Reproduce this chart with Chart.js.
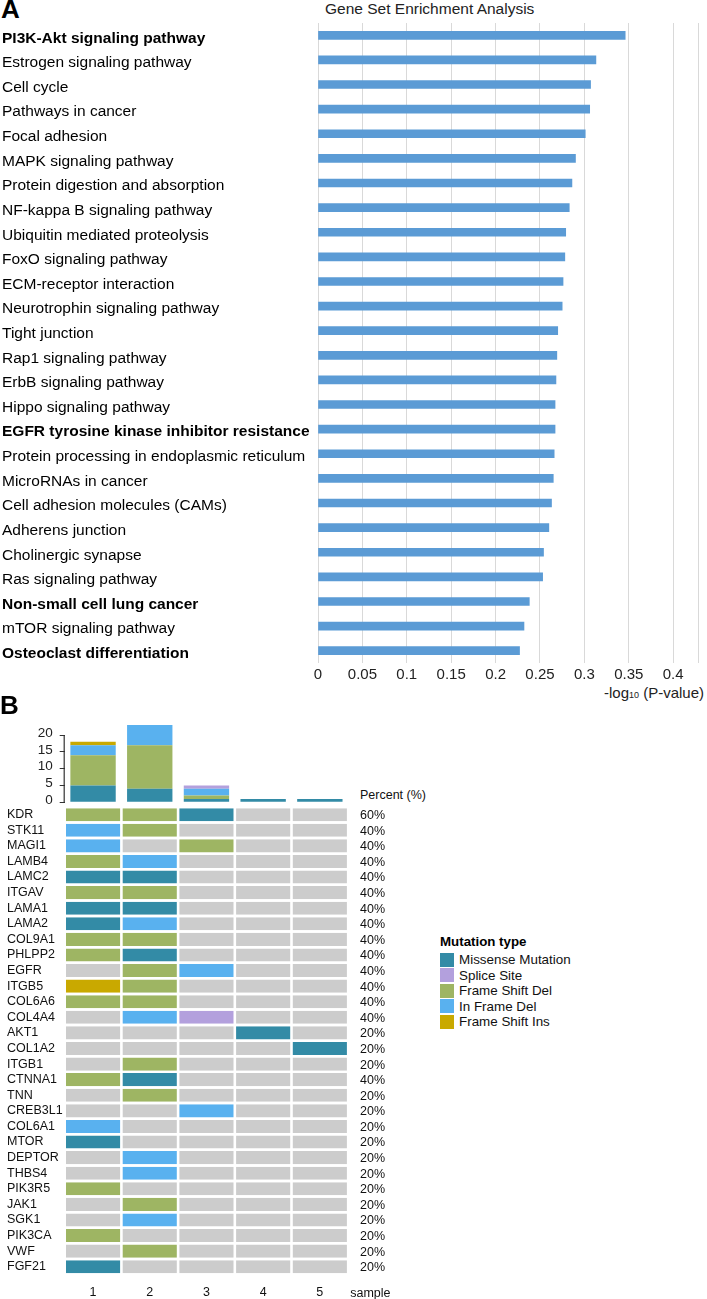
<!DOCTYPE html>
<html>
<head>
<meta charset="utf-8">
<script src="https://cdn.jsdelivr.net/npm/chart.js@4.4.1/dist/chart.umd.min.js"></script>
<style>
  body { margin: 0; width: 707px; height: 1299px; position: relative; overflow: hidden; background: #fff;
         font-family: 'Liberation Sans', Arial, sans-serif; color: #111; }
  canvas, .t { position: absolute; }
  .t { white-space: nowrap; }
  .sw { position: absolute; width: 14px; height: 14px; }
</style>
</head>
<body>
<div class="t" style="left:1px;top:-4px;font-size:26px;line-height:26px;font-weight:bold;color:#000">A</div>
<div class="t" style="left:325px;top:0;font-size:15.5px;line-height:17px;color:#222">Gene Set Enrichment Analysis</div>
<div class="t" style="left:604px;top:684px;font-size:15px;line-height:18px;color:#222">-log<span style="font-size:9px">10</span> (P-value)</div>
<canvas id="chartA" width="707" height="720" style="left:0;top:0"></canvas>

<div class="t" style="left:0;top:692px;font-size:26px;line-height:26px;font-weight:bold;color:#000">B</div>
<div class="t" style="left:360px;top:788px;font-size:12.5px;line-height:15px">Percent (%)</div>
<canvas id="chartCounts" width="400" height="118" style="left:0;top:700px"></canvas>
<canvas id="chartHeat" width="420" height="499" style="left:0;top:800px"></canvas>
<div id="legend"></div>

<script>
// ---- panel A: enrichment ----
const pathways = [
  'PI3K-Akt signaling pathway', 'Estrogen signaling pathway', 'Cell cycle', 'Pathways in cancer',
  'Focal adhesion', 'MAPK signaling pathway', 'Protein digestion and absorption',
  'NF-kappa B signaling pathway', 'Ubiquitin mediated proteolysis', 'FoxO signaling pathway',
  'ECM-receptor interaction', 'Neurotrophin signaling pathway', 'Tight junction',
  'Rap1 signaling pathway', 'ErbB signaling pathway', 'Hippo signaling pathway',
  'EGFR tyrosine kinase inhibitor resistance', 'Protein processing in endoplasmic reticulum',
  'MicroRNAs in cancer', 'Cell adhesion molecules (CAMs)', 'Adherens junction',
  'Cholinergic synapse', 'Ras signaling pathway', 'Non-small cell lung cancer',
  'mTOR signaling pathway', 'Osteoclast differentiation'
];
const negLogP = [0.346, 0.313, 0.307, 0.306, 0.301, 0.290, 0.286, 0.283, 0.279, 0.278, 0.276, 0.275, 0.270,
                 0.269, 0.268, 0.267, 0.267, 0.266, 0.265, 0.263, 0.260, 0.254, 0.253, 0.238, 0.232, 0.227];
const boldPathways = ['PI3K-Akt signaling pathway', 'EGFR tyrosine kinase inhibitor resistance',
                      'Non-small cell lung cancer', 'Osteoclast differentiation'];
const xTickLabels = ['0', '0.05', '0.1', '0.15', '0.2', '0.25', '0.3', '0.35', '0.4'];

// ---- panel B: mutations ----
const samples = ['1', '2', '3', '4', '5'];
const genes = ['KDR', 'STK11', 'MAGI1', 'LAMB4', 'LAMC2', 'ITGAV', 'LAMA1', 'LAMA2', 'COL9A1', 'PHLPP2',
               'EGFR', 'ITGB5', 'COL6A6', 'COL4A4', 'AKT1', 'COL1A2', 'ITGB1', 'CTNNA1', 'TNN', 'CREB3L1',
               'COL6A1', 'MTOR', 'DEPTOR', 'THBS4', 'PIK3R5', 'JAK1', 'SGK1', 'PIK3CA', 'VWF', 'FGF21'];
const pctLabels = ['60%', '40%', '40%', '40%', '40%', '40%', '40%', '40%', '40%', '40%', '40%', '40%', '40%', '40%',
                   '20%', '20%', '20%', '40%', '20%', '20%', '20%', '20%', '20%', '20%', '20%', '20%', '20%', '20%', '20%', '20%'];
// one code per gene, '-' = no mutation
const sample1 = ['FSD','IFD','IFD','FSD','MIS','FSD','MIS','MIS','FSD','FSD','-','FSI','FSD','-','-',
                 '-','-','FSD','-','-','IFD','MIS','-','-','FSD','-','-','FSD','-','MIS'];
const sample2 = ['FSD','FSD','-','IFD','MIS','FSD','MIS','IFD','FSD','MIS','FSD','FSD','FSD','IFD','-',
                 '-','FSD','MIS','FSD','-','-','-','IFD','IFD','-','FSD','IFD','-','FSD','-'];
const sample3 = ['MIS','-','FSD','-','-','-','-','-','-','-','IFD','-','-','SPL','-',
                 '-','-','-','-','IFD','-','-','-','-','-','-','-','-','-','-'];
const sample4 = ['-','-','-','-','-','-','-','-','-','-','-','-','-','-','MIS',
                 '-','-','-','-','-','-','-','-','-','-','-','-','-','-','-'];
const sample5 = ['-','-','-','-','-','-','-','-','-','-','-','-','-','-','-',
                 'MIS','-','-','-','-','-','-','-','-','-','-','-','-','-','-'];

// mutation counts per sample (top bars)
const missenseCounts = [5, 4, 1, 1, 1];
const frameDelCounts = [9, 13, 1, 0, 0];
const inFrameCounts  = [3, 6, 2, 0, 0];
const spliceCounts   = [0, 0, 1, 0, 0];
const frameInsCounts = [1, 0, 0, 0, 0];
const countTicks = [0, 5, 10, 15, 20];

const typeNames = { MIS: 'Missense Mutation', SPL: 'Splice Site', FSD: 'Frame Shift Del', IFD: 'In Frame Del', FSI: 'Frame Shift Ins' };
const typeColors = { MIS: '#338BA6', SPL: '#B3A0DD', FSD: '#9EB563', IFD: '#59B1EF', FSI: '#C9A900', '-': '#CCCCCC' };

const FONT = "'Liberation Sans', Arial, sans-serif";
Chart.defaults.font.family = FONT;
Chart.defaults.color = '#111';
Chart.defaults.animation = false;
Chart.defaults.plugins.legend.display = false;
Chart.defaults.plugins.tooltip.enabled = false;

// panel A chart
new Chart(document.getElementById('chartA'), {
  type: 'bar',
  data: {
    labels: pathways,
    datasets: [{ data: negLogP, backgroundColor: '#5B9BD5', barThickness: 8 }]
  },
  options: {
    indexAxis: 'y',
    responsive: false,
    devicePixelRatio: 1,
    layout: { padding: { left: 2, right: 9, top: 23, bottom: 0 } },
    scales: {
      x: {
        min: 0, max: 0.428,
        afterBuildTicks: s => { s.ticks = xTickLabels.map(Number).concat([s.max]).map(v => ({ value: v })); },
        ticks: { padding: 3, color: '#222', font: { size: 15 }, maxRotation: 0, autoSkip: false,
                 callback: (v, i) => xTickLabels[i] ?? '' },
        grid: { color: '#d9d9d9', drawTicks: false },
        border: { display: false },
        afterFit: s => { s.height = 57; }
      },
      y: {
        ticks: {
          crossAlign: 'far', color: '#000', autoSkip: false, labelOffset: 3,
          font: ctx => ({ size: 15.5, weight: boldPathways.includes(pathways[ctx.index]) ? 'bold' : 'normal' })
        },
        grid: { display: false },
        border: { display: false },
        afterFit: s => { s.width = 316; }
      }
    }
  }
});

// top stacked bars
const countAxis = {
  id: 'countAxis',
  afterDraw(chart) {
    const y = chart.scales.y, ctx = chart.ctx;
    ctx.save();
    ctx.strokeStyle = '#333';
    ctx.lineWidth = 1.2;
    ctx.beginPath();
    ctx.moveTo(y.right - 0.5, y.getPixelForValue(0));
    ctx.lineTo(y.right - 0.5, y.getPixelForValue(countTicks[countTicks.length - 1]));
    ctx.stroke();
    ctx.restore();
  }
};

new Chart(document.getElementById('chartCounts'), {
  type: 'bar',
  data: {
    labels: samples,
    datasets: [
      { label: typeNames.MIS, data: missenseCounts, backgroundColor: typeColors.MIS },
      { label: typeNames.FSD, data: frameDelCounts, backgroundColor: typeColors.FSD },
      { label: typeNames.IFD, data: inFrameCounts, backgroundColor: typeColors.IFD },
      { label: typeNames.SPL, data: spliceCounts, backgroundColor: typeColors.SPL },
      { label: typeNames.FSI, data: frameInsCounts, backgroundColor: typeColors.FSI }
    ]
  },
  options: {
    responsive: false,
    devicePixelRatio: 1,
    categoryPercentage: 0.8,
    barPercentage: 1,
    layout: { padding: { left: 0, right: 51.8, top: 25, bottom: 15.7 } },
    scales: {
      x: { display: false, stacked: true },
      y: {
        stacked: true, min: 0, max: 23,
        afterBuildTicks: s => { s.ticks = countTicks.map(v => ({ value: v })); },
        ticks: { padding: 7, color: '#222', font: { size: 13.5 }, labelOffset: -2 },
        grid: { drawOnChartArea: false, tickLength: 5, color: '#333' },
        border: { display: false },
        afterFit: s => { s.width = 64.7; }
      }
    }
  },
  plugins: [countAxis]
});

// oncoprint grid
const sampleRows = [sample1, sample2, sample3, sample4, sample5];
const sampleTitle = {
  id: 'sampleTitle',
  afterDraw(chart) {
    const ctx = chart.ctx;
    ctx.save();
    ctx.font = '12.5px ' + FONT;
    ctx.fillStyle = '#111';
    ctx.textBaseline = 'alphabetic';
    ctx.fillText('sample', chart.chartArea.right + 2, chart.scales.x.top + 22);
    ctx.restore();
  }
};

new Chart(document.getElementById('chartHeat'), {
  type: 'bar',
  data: {
    labels: genes,
    datasets: sampleRows.map((codes, i) => ({
      label: samples[i],
      data: codes.map(() => 1),
      backgroundColor: codes.map(c => typeColors[c]),
      borderColor: '#fff',
      borderWidth: { left: 1.3, right: 1.3, top: 0, bottom: 0 },
      borderSkipped: false
    }))
  },
  options: {
    indexAxis: 'y',
    responsive: false,
    devicePixelRatio: 1,
    categoryPercentage: 0.84,
    barPercentage: 1,
    layout: { padding: { left: 7, right: 0, top: 6.9, bottom: 0 } },
    scales: {
      x: {
        stacked: true, min: 0, max: samples.length,
        afterBuildTicks: s => { s.ticks = samples.map((_, i) => ({ value: i + 0.5 })); },
        ticks: { padding: 10.5, font: { size: 12.5 }, color: '#111', maxRotation: 0, autoSkip: false,
                 callback: (v, i) => samples[i] },
        grid: { display: false, drawTicks: false },
        border: { display: false },
        afterFit: s => { s.height = 24.5; }
      },
      y: {
        stacked: true,
        ticks: { crossAlign: 'far', padding: 0, font: { size: 12.5, lineHeight: 1 }, color: '#111', autoSkip: false },
        grid: { display: false },
        border: { display: false },
        afterFit: s => { s.width = 57.7; }
      },
      yPct: {
        type: 'category', position: 'right', offset: true, labels: pctLabels,
        ticks: { padding: 0, font: { size: 12.5, lineHeight: 1 }, color: '#111', autoSkip: false, labelOffset: 1 },
        grid: { display: false, drawTicks: true, tickLength: 11.8 },
        border: { display: false },
        afterFit: s => { s.width = 71.8; }
      }
    }
  },
  plugins: [sampleTitle]
});

// legend for mutation types
const legendOrder = ['MIS', 'SPL', 'FSD', 'IFD', 'FSI'];
const legend = document.getElementById('legend');
legend.innerHTML = '<div class="t" style="left:440px;top:934px;font-size:13.3px;line-height:15px;font-weight:bold;color:#000">Mutation type</div>' +
  legendOrder.map((k, i) => {
    const top = 952.5 + i * 15.6;
    return `<div class="sw" style="left:440px;top:${top}px;background:${typeColors[k]}"></div>` +
           `<div class="t" style="left:459px;top:${top - 0.5}px;font-size:13.4px;line-height:15px">${typeNames[k]}</div>`;
  }).join('');
</script>
</body>
</html>
